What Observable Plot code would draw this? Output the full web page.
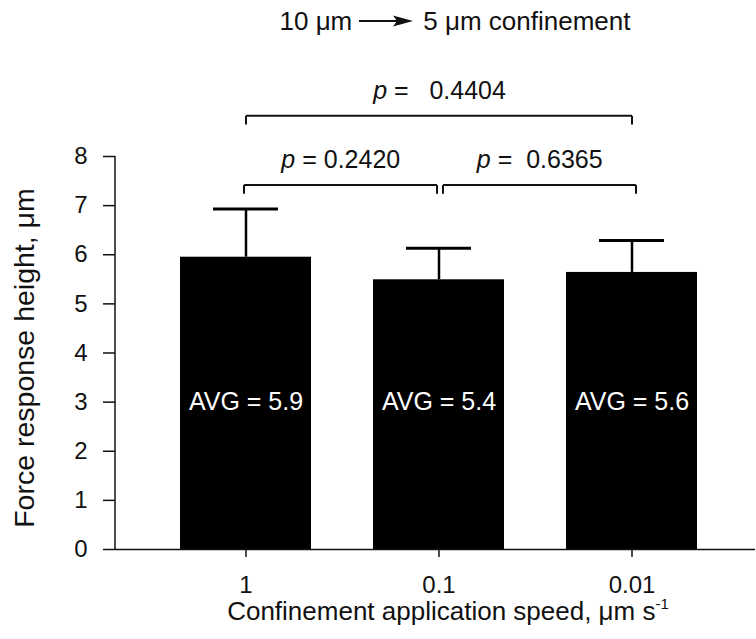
<!DOCTYPE html>
<html>
<head>
<meta charset="utf-8">
<script src="https://cdn.jsdelivr.net/npm/d3@7"></script>
<script src="https://cdn.jsdelivr.net/npm/@observablehq/plot@0.6"></script>
<style>
  body { margin: 0; background: #fff; font-family: "Liberation Sans", Arial, sans-serif; color: #111; }
  #wrap { position: relative; width: 756px; height: 639px; overflow: hidden; }
  #title { position: absolute; top: 6px; left: 0; width: 910px; text-align: center; font-size: 26px; white-space: nowrap; }
  #title svg { vertical-align: middle; margin: 0 10px 0 7px; position: relative; top: -2px; }
  #xlabel { position: absolute; top: 596px; left: 0; width: 896px; text-align: center; font-size: 26px; white-space: nowrap; }
  #xlabel sup { font-size: 15px; position: relative; top: -1px; }
</style>
</head>
<body>
<div id="wrap">
  <div id="chart"></div>
  <div id="title">10 μm<svg width="54" height="14" viewBox="0 0 54 14"><line x1="0" y1="7" x2="42" y2="7" stroke="#111" stroke-width="2"/><polygon points="34,1.5 54,7 34,12.5 38,7" fill="#111"/></svg>5 μm confinement</div>
  <div id="xlabel">Confinement application speed, μm s<sup>-1</sup></div>
</div>
<script>
// ---- data ----
const speeds = ["1", "0.1", "0.01"];          // x categories (tick labels)
const means = [5.95, 5.49, 5.64];             // bar heights, µm
const errors = [0.98, 0.64, 0.65];            // upper error bar lengths, µm
const avgLabels = ["5.9", "5.4", "5.6"];      // printed averages
const yTicks = [0, 1, 2, 3, 4, 5, 6, 7, 8];
const compFrom = ["1", "0.1", "1"];
const compTo = ["0.1", "0.01", "0.01"];
const pLabels = ["p = 0.2420", "p =  0.6365", "p =   0.4404"];

// ---- layout constants ----
const W = 756, H = 639, ML = 115, MR = 1, MT = 156, MB = 90;
const PI = 0.323, PO = 0.315, ALIGN = 0.53;
const step = (W - ML - MR) / (speeds.length - PI + 2 * PO);
const bracketLevels = [7.42, 7.42, 8.83];
const bracketDx = [-2, 4, 0];
const legLen = 0.18;
const font = "'Liberation Sans', Arial, sans-serif";

const data = speeds.map((s, i) => ({speed: s, mean: means[i], upper: means[i] + errors[i], avg: avgLabels[i]}));
const comps = compFrom.map((f, i) => ({from: f, to: compTo[i], label: pLabels[i], level: bracketLevels[i]}));
const idx = s => speeds.indexOf(s);

const bracketMarks = comps.flatMap((c, i) => [
  Plot.link([c], {x1: "from", x2: "to", y1: "level", y2: "level", dx: bracketDx[i], stroke: "#111", strokeWidth: 2}),
  Plot.link([c], {x1: "from", x2: "from", y1: "level", y2: d => d.level - legLen, dx: bracketDx[i], stroke: "#111", strokeWidth: 2}),
  Plot.link([c], {x1: "to", x2: "to", y1: "level", y2: d => d.level - legLen, dx: bracketDx[i], stroke: "#111", strokeWidth: 2}),
  Plot.text([c], {x: "from", y: "level", text: "label", dx: step * (idx(c.to) - idx(c.from)) / 2 + bracketDx[i], dy: -25,
    fontSize: 25, fill: "#111"})
]);

const chart = Plot.plot({
  width: W, height: H,
  marginLeft: ML, marginRight: MR, marginTop: MT, marginBottom: MB,
  style: {fontFamily: font, color: "#111", background: "transparent", overflow: "visible"},
  x: {domain: speeds, paddingInner: PI, paddingOuter: PO, align: ALIGN},
  y: {domain: [0, 8]},
  marks: [
    Plot.barY(data, {x: "speed", y: "mean", fill: "#000"}),
    Plot.ruleX(data, {x: "speed", y1: "mean", y2: "upper", stroke: "#000", strokeWidth: 2.5}),
    Plot.tickY(data, {x: "speed", y: "upper", stroke: "#000", strokeWidth: 3, insetLeft: 33, insetRight: 33}),
    Plot.text(data, {x: "speed", y: () => 3, text: d => `AVG = ${d.avg}`, fill: "#fff", fontSize: 25}),
    Plot.ruleY([0], {stroke: "#111", strokeWidth: 1.5}),
    Plot.axisX({tickSize: 8, tickPadding: 18, fontSize: 24, strokeWidth: 1.5, label: null}),
    Plot.axisY({ticks: yTicks, tickSize: 12, tickPadding: 16, fontSize: 24, strokeWidth: 1.5, label: null}),
    Plot.text(["Force response height, μm"], {frameAnchor: "left", rotate: -90, dx: -102, dy: 5, textAnchor: "middle", lineAnchor: "top", fontSize: 28.5, fill: "#111"}),
    ...bracketMarks
  ]
});

// y axis line drawn with the chart's own y scale
const ys = chart.scale("y");
d3.select(chart).append("line")
  .attr("x1", ML).attr("x2", ML)
  .attr("y1", ys.apply(0)).attr("y2", ys.apply(8))
  .attr("stroke", "#111").attr("stroke-width", 1.5);

// italic "p" in the p-value labels, keep multiple spaces
d3.select(chart).selectAll("text").each(function () {
  const t = this.textContent;
  if (!/^p =/.test(t)) return;
  this.textContent = "";
  d3.select(this).append("tspan").attr("font-style", "italic").text(t.slice(0, 1));
  d3.select(this).append("tspan").text(t.slice(1));
  d3.select(this).style("white-space", "pre");
});

document.getElementById("chart").append(chart);
</script>
</body>
</html>
